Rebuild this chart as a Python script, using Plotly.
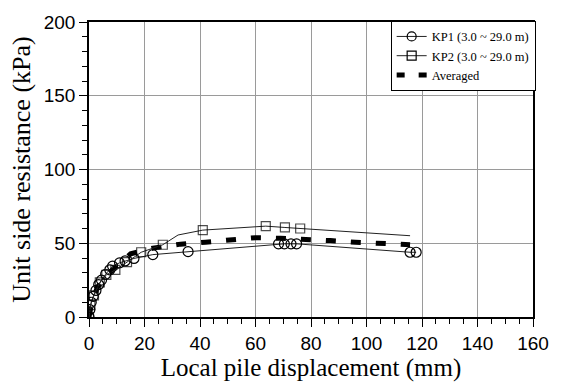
import plotly.graph_objects as go

kp1_x = [0, 0.3, 0.8, 1.5, 2.5, 3.5, 4.5, 6, 7.5, 8.5, 11, 13, 16.2, 23, 35.7, 68.3, 70.4, 72.8, 74.8, 115.7, 117.9]
kp1_y = [0, 5, 10, 14, 18, 22, 25, 29, 32, 34.5, 36.7, 38, 39.7, 42.3, 44.3, 49.6, 49.6, 49.6, 49.6, 43.9, 43.9]

kp2_x = [0, 0.5, 1.8, 3.9, 6.25, 9.5, 13.7, 18.8, 26.6, 32.1, 41, 63.7, 70.6, 76.1, 115.7]
kp2_y = [0, 8, 14.6, 23.5, 28.6, 31.9, 37.2, 43.9, 49, 55.6, 58.9, 61.6, 60.7, 60.0, 55.1]
kp2_marked = [True, True, True, True, True, True, True, True, True, False, True, True, True, True, False]

avg_x = [0, 1, 3, 6, 10, 15, 23, 33, 42, 50, 60, 69, 78, 87, 96, 105, 115.7]
avg_y = [0, 10, 20, 28, 34, 42.8, 46.7, 49.4, 50.7, 52, 53.8, 53.4, 53, 51.8, 50.7, 49.8, 49]

x_ticks = [0, 20, 40, 60, 80, 100, 120, 140, 160]
y_ticks = [0, 50, 100, 150, 200]

line_col = "#222222"
fig = go.Figure()

fig.add_trace(go.Scatter(
    x=avg_x, y=avg_y, mode="lines", name="Averaged",
    line=dict(color="black", width=5, dash="10px,15px"),
    showlegend=False))

fig.add_trace(go.Scatter(
    x=kp1_x, y=kp1_y, mode="lines+markers", name="KP1 (3.0 ~ 29.0 m)",
    line=dict(color=line_col, width=1),
    marker=dict(symbol="circle-open", size=10, color="black", line=dict(width=1.2)),
    showlegend=False))

fig.add_trace(go.Scatter(
    x=kp2_x, y=kp2_y, mode="lines+markers", name="KP2 (3.0 ~ 29.0 m)",
    line=dict(color=line_col, width=1),
    marker=dict(symbol="square-open", size=[9 if m else 0 for m in kp2_marked],
                color="black", line=dict(width=1.2)),
    showlegend=False))

# legend entries
fig.add_trace(go.Scatter(x=[None], y=[None], mode="lines+markers", name="KP1 (3.0 ~ 29.0 m)",
    line=dict(color=line_col, width=1),
    marker=dict(symbol="circle-open", size=9, color="black", line=dict(width=1.2))))
fig.add_trace(go.Scatter(x=[None], y=[None], mode="lines+markers", name="KP2 (3.0 ~ 29.0 m)",
    line=dict(color=line_col, width=1),
    marker=dict(symbol="square-open", size=9, color="black", line=dict(width=1.2))))
fig.add_trace(go.Scatter(x=[None], y=[None], mode="lines", name="Averaged",
    line=dict(color="black", width=5, dash="8px,14px")))

axis_common = dict(
    showline=True, linecolor="black", linewidth=1.5, mirror=True,
    showgrid=True, gridcolor="#9a9a9a", gridwidth=1,
    ticks="outside", ticklen=8, tickcolor="black", tickwidth=1,
    tickfont=dict(family="Liberation Sans, Arial", size=19, color="black"),
    zeroline=False,
)

fig.update_xaxes(range=[0, 160], tickvals=x_ticks,
                 minor=dict(dtick=5, ticks="outside", ticklen=5, tickcolor="black", showgrid=False),
                 title=dict(text="Local pile displacement (mm)",
                            font=dict(family="Liberation Serif, Times New Roman", size=25, color="black"),
                            standoff=2),
                 **axis_common)
fig.update_yaxes(range=[0, 200], tickvals=y_ticks,
                 minor=dict(dtick=10, ticks="outside", ticklen=5, tickcolor="black", showgrid=False),
                 title=dict(text="Unit side resistance (kPa)",
                            font=dict(family="Liberation Serif, Times New Roman", size=26, color="black"),
                            standoff=6),
                 **axis_common)

fig.update_layout(
    width=561, height=390,
    margin=dict(l=89, r=19, t=16, b=73),
    plot_bgcolor="white", paper_bgcolor="white",
    legend=dict(x=1.006, y=1.004, xanchor="right", yanchor="top",
                bgcolor="white", bordercolor="black", borderwidth=1,
                font=dict(family="Liberation Serif, Times New Roman", size=12.5, color="black"),
                tracegroupgap=0, itemwidth=30),
)

fig.write_html("out.html")
